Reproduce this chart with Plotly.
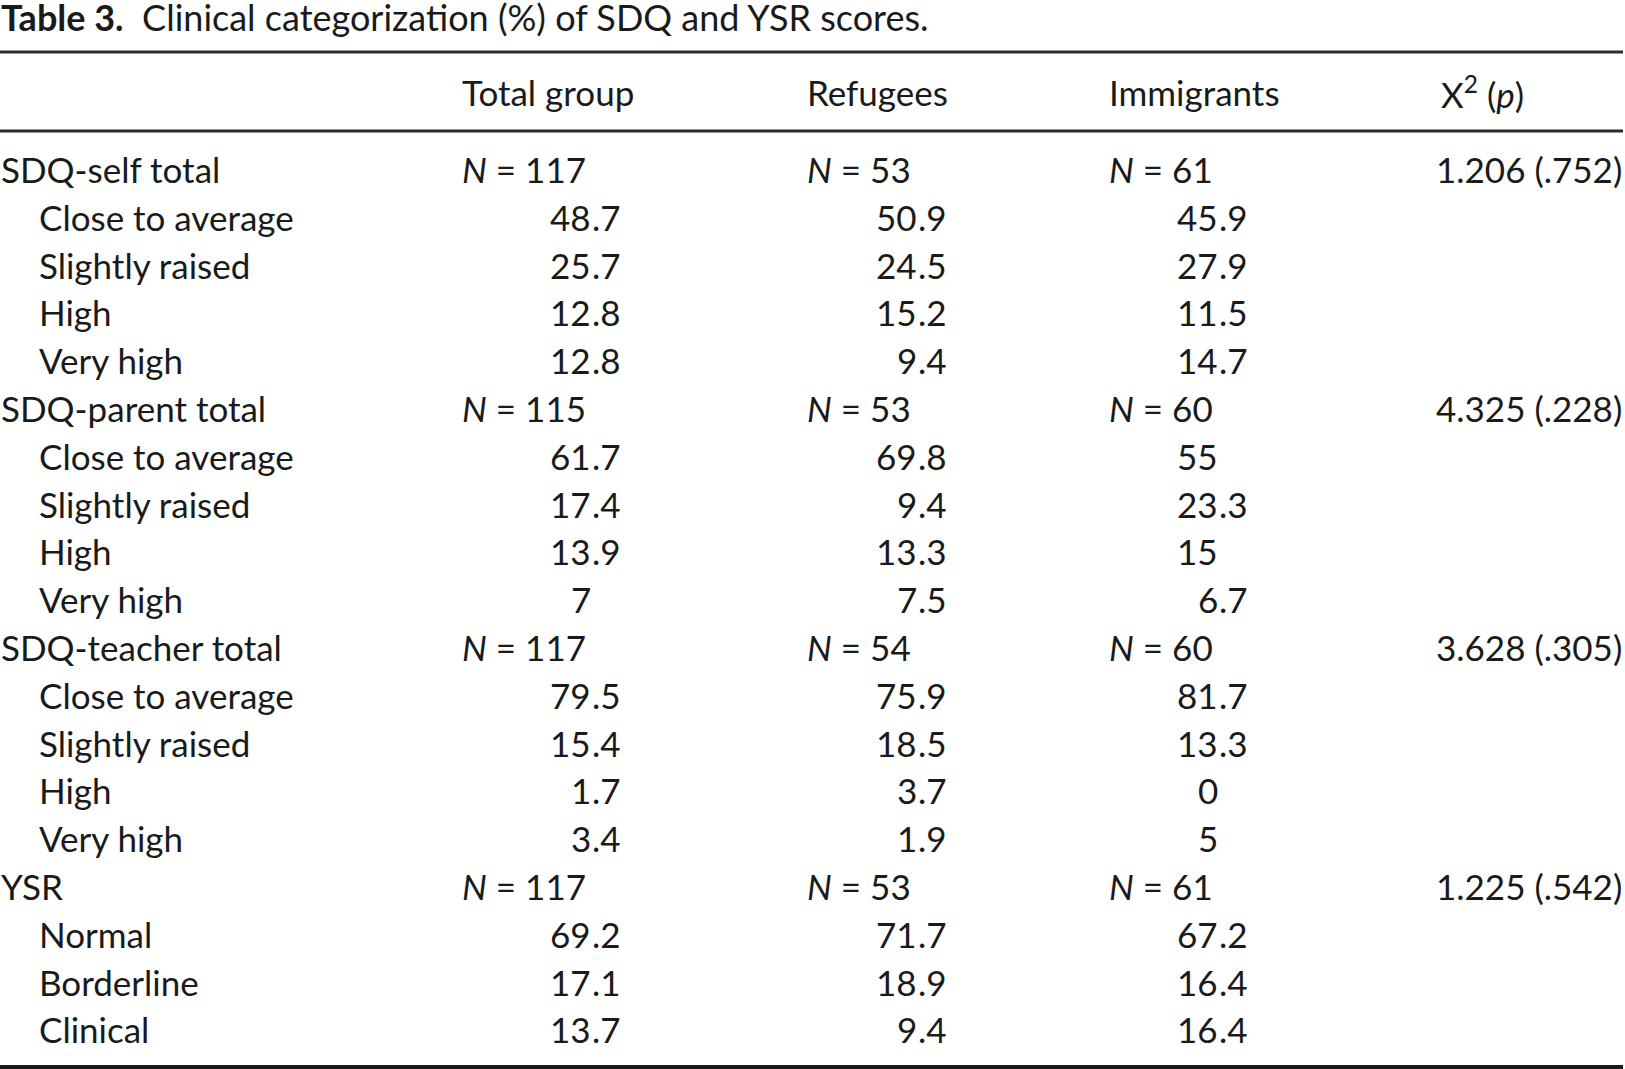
import plotly.graph_objects as go

# table content
title_bold = "Table 3."
title_rest = "Clinical categorization (%) of SDQ and YSR scores."
col_headers = ["Total group", "Refugees", "Immigrants", "X<sup>2</sup> (<i>p</i>)"]

groups = ["SDQ-self total", "SDQ-parent total", "SDQ-teacher total", "YSR"]
n_total = [117, 115, 117, 117]
n_refugees = [53, 53, 54, 53]
n_immigrants = [61, 60, 60, 61]
chi2_p = ["1.206 (.752)", "4.325 (.228)", "3.628 (.305)", "1.225 (.542)"]

sdq_levels = ["Close to average", "Slightly raised", "High", "Very high"]
ysr_levels = ["Normal", "Borderline", "Clinical"]
levels = [sdq_levels, sdq_levels, sdq_levels, ysr_levels]

total_pct = [[48.7, 25.7, 12.8, 12.8], [61.7, 17.4, 13.9, 7],
             [79.5, 15.4, 1.7, 3.4], [69.2, 17.1, 13.7]]
refugees_pct = [[50.9, 24.5, 15.2, 9.4], [69.8, 9.4, 13.3, 7.5],
                [75.9, 18.5, 3.7, 1.9], [71.7, 18.9, 9.4]]
immigrants_pct = [[45.9, 27.9, 11.5, 14.7], [55, 23.3, 15, 6.7],
                  [81.7, 13.3, 0, 5], [67.2, 16.4, 16.4]]

W, H = 1625, 1069
FONT = "Lato"
FS = 35
INK = "#1a1a1a"

x_label, x_indent = 0, 38
x_cols = [461, 806, 1108]          # left edge of header / N cells
x_dec = [592, 918, 1219]           # decimal point of percentages
x_chi_head, x_chi_right = 1440, 1623
y_head = 92
y_first, row_step = 169, 47.8

fig = go.Figure()
ann = []


def txt(x, y, s, anchor="left", size=FS):
    ann.append(dict(x=x, y=y, text=s, xanchor=anchor, yanchor="middle",
                    showarrow=False, xref="x", yref="y", borderpad=0,
                    font=dict(family=FONT, size=size, color=INK)))


def num(x, y, v):
    s = f"{v:g}"
    if "." in s:
        ip, fp = s.split(".")
        txt(x, y, ip, "right")
        txt(x - 1, y, "." + fp, "left")
    else:
        txt(x, y, s, "right")


# title
txt(0, 17, f"<b>{title_bold}</b>  {title_rest}", size=36)

# header
for xc, h in zip(x_cols, col_headers[:3]):
    txt(xc, y_head, h)
txt(x_chi_head, y_head, col_headers[3])

row = 0
for g in range(len(groups)):
    y = y_first + row * row_step
    txt(x_label, y, groups[g])
    txt(x_cols[0], y, f"<i>N</i> = {n_total[g]}")
    txt(x_cols[1], y, f"<i>N</i> = {n_refugees[g]}")
    txt(x_cols[2], y, f"<i>N</i> = {n_immigrants[g]}")
    txt(x_chi_right, y, chi2_p[g], "right")
    row += 1
    for k, lev in enumerate(levels[g]):
        y = y_first + row * row_step
        txt(x_indent, y, lev)
        num(x_dec[0], y, total_pct[g][k])
        num(x_dec[1], y, refugees_pct[g][k])
        num(x_dec[2], y, immigrants_pct[g][k])
        row += 1

rules = [(52, 3, "#2a2a2a"), (131, 3, "#2a2a2a"), (1067, 4, "#1a1a1a")]
shapes = [dict(type="line", xref="x", yref="y", x0=0, x1=1623, y0=yy, y1=yy,
               line=dict(color=c, width=wd)) for yy, wd, c in rules]

fig.update_layout(
    width=W, height=H,
    margin=dict(l=0, r=0, t=0, b=0),
    paper_bgcolor="white", plot_bgcolor="white",
    xaxis=dict(range=[0, W], visible=False, fixedrange=True),
    yaxis=dict(range=[H, 0], visible=False, fixedrange=True),
    annotations=ann, shapes=shapes, showlegend=False,
)

fig.write_html("out.html", config={"displayModeBar": False},
               post_script="document.body.style.margin='0';")
